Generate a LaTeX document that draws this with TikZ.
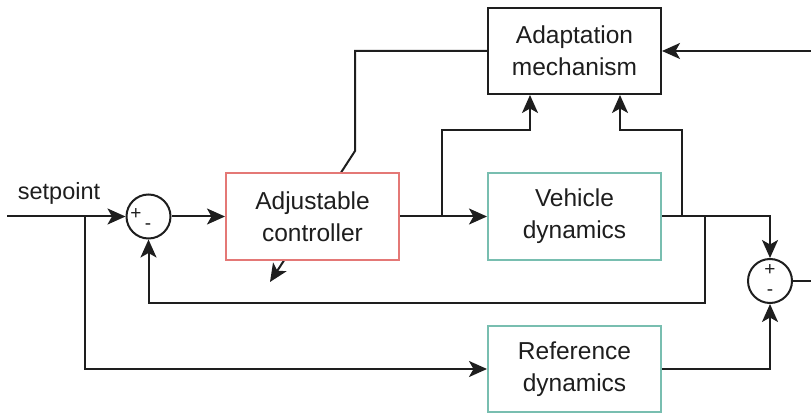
\documentclass[tikz,border=0pt]{standalone}
\usepackage{fontspec}
\setmainfont{Liberation Sans}
\usetikzlibrary{arrows.meta,calc}
\definecolor{ctrlred}{RGB}{228,120,118}
\definecolor{plantteal}{RGB}{120,190,176}
\definecolor{ink}{RGB}{30,30,30}
\tikzset{
  arr/.style={draw=ink, line width=2pt, -{Stealth[length=18pt,width=16pt,inset=4.5pt]}},
  wire/.style={draw=ink, line width=2pt},
  blockbox/.style={draw=ink, line width=2pt, fill=white, minimum width=173pt, minimum height=86pt,
    align=center, inner sep=0pt, font=\fontsize{24.5}{32}\selectfont, text=ink},
  sumnode/.style={circle, draw=ink, line width=2pt, fill=white, minimum size=44pt, inner sep=0pt},
  signlbl/.style={font=\fontsize{19}{19}\selectfont, text=ink, inner sep=0pt},
}
\begin{document}
\begin{tikzpicture}[x=1pt, y=-1pt]
\useasboundingbox (0,0) rectangle (811,414);
\clip (0,0) rectangle (811,414);

% blocks
\node[blockbox] (adapt) at (574.5,51) {Adaptation\\mechanism};
\node[blockbox, draw=plantteal] (veh) at (574.5,216.5) {Vehicle\\dynamics};
\node[blockbox, draw=plantteal] (refd) at (574.5,369) {Reference\\dynamics};

% adaptation signal crossing the controller diagonally
\coordinate (bend) at (355,51);
\coordinate (kink) at (355,151);
\coordinate (adjtip) at (270,282);
\draw[arr] (adapt.west) -- (bend) -- (kink) -- (adjtip);

\node[blockbox, draw=ctrlred] (ctrl) at (312.5,216.5) {Adjustable\\controller};

% summing junctions
\node[sumnode] (s1) at (148.5,216.5) {};
\node[signlbl] at (136,214) {+};
\node[signlbl] at (148,227) {-};
\node[sumnode] (s2) at (770,281) {};
\node[signlbl] at (770,270) {+};
\node[signlbl] at (770,293) {-};

% setpoint input
\coordinate (sp) at (7,216.5);
\coordinate (j1) at (85,216.5);
\node[font=\fontsize{23.5}{28}\selectfont, text=ink] (splbl) at (59,193) {setpoint};
\draw[arr] (sp) -- (s1.west);
\draw[arr] (j1) |- (refd.west);

% forward path
\draw[arr] (s1.east) -- (ctrl.west);
\draw[arr] (ctrl.east) -- (veh.west);

% controller output to adaptation
\coordinate (j2) at (442,216.5);
\coordinate (a1) at (530,130);
\draw[arr] (j2) |- (a1) -- (a1 |- adapt.south);

% plant output to adaptation
\coordinate (j4) at (682,216.5);
\coordinate (a2) at (620,130);
\draw[arr] (veh.east) -- (j4) |- (a2) -- (a2 |- adapt.south);

% plant output to output comparator
\draw[arr] (veh.east) -| (s2.north);

% feedback to first summing junction
\coordinate (j3) at (705,216.5);
\coordinate (fb) at (705,303);
\draw[arr] (j3) -- (fb) -| (s1.south);

% reference model output
\draw[arr] (refd.east) -| (s2.south);

% error back to adaptation
\coordinate (e1) at (830,281);
\coordinate (e2) at (830,51);
\draw[arr] (s2.east) -- (e1) -- (e2) -- (adapt.east);
\end{tikzpicture}
\end{document}
